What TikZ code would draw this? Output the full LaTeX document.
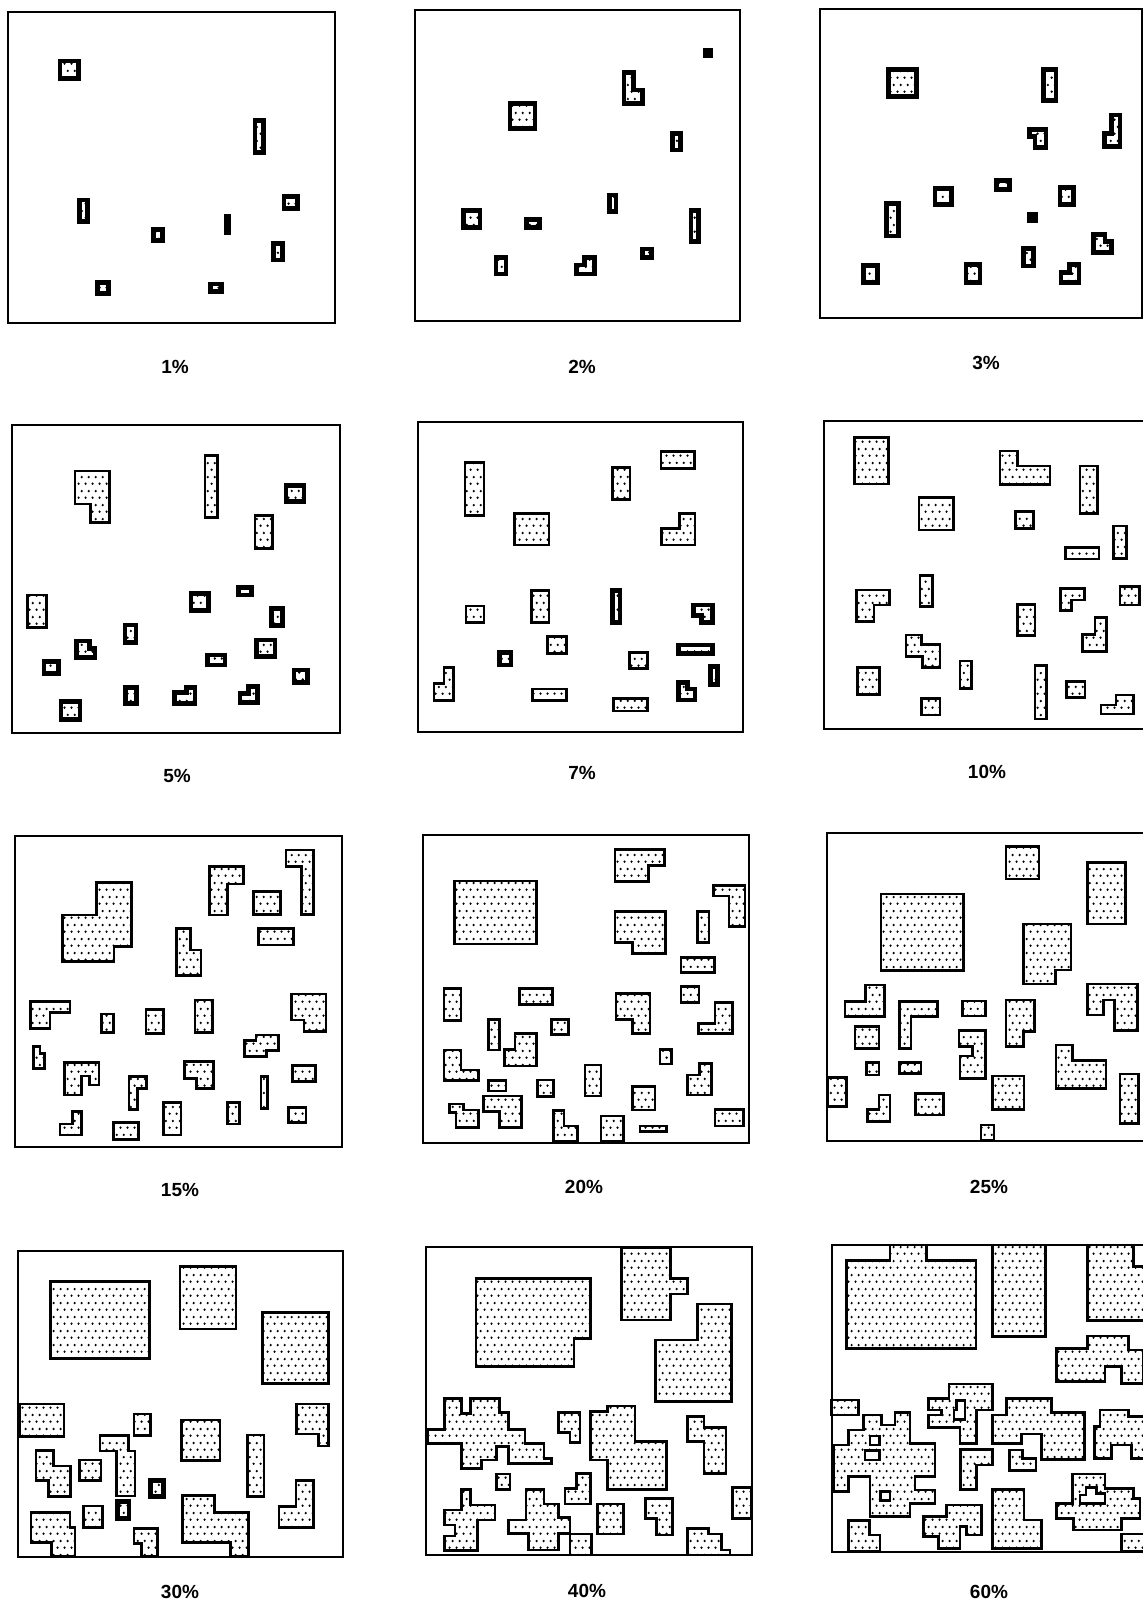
\documentclass[tikz,border=0pt]{standalone}
\usepackage{fontspec}
\newfontfamily\lblfont{Liberation Sans}
\usetikzlibrary{patterns}
\pgfdeclarepatternformonly{stag}{\pgfpointorigin}{\pgfpoint{3.5pt}{7pt}}{\pgfpoint{3.5pt}{7pt}}{%
  \pgfpathcircle{\pgfpoint{0.875pt}{1.75pt}}{0.68pt}%
  \pgfpathcircle{\pgfpoint{2.625pt}{5.25pt}}{0.68pt}%
  \pgfusepath{fill}}
\tikzset{
  frame/.style={draw, line width=1pt},
  blk/.style={draw, line width=1.3pt, pattern=stag, line join=miter},
  sml/.style={draw, line width=2.2pt, pattern=stag, line join=miter},
  solid blk/.style={draw, line width=1pt, fill=black},
  lbl/.style={font=\lblfont\bfseries\fontsize{9.5}{10}\selectfont, inner sep=0pt},
  panel/.style 2 args={xshift=#1*0.5pt, yshift=-#2*0.5pt, x=0.1666667pt, y=-0.1666667pt}
}
\begin{document}
\begin{tikzpicture}[x=0.5pt, y=-0.5pt]
\path[use as bounding box] (0,0) rectangle (1143,1607);
\clip (0,0) rectangle (1143,1607);
\fill[white] (0,0) rectangle (1143,1607);

% ---------- 1% ----------
\begin{scope}[panel={0}{0}]
\draw[frame] (25,35) rectangle (1005,968);
\draw[sml] (180,183) rectangle (235,235);
\draw[sml] (765,362) rectangle (790,458);
\draw[sml] (238,600) rectangle (262,665);
\draw[sml] (460,688) rectangle (488,722);
\draw[solid blk] (675,645) rectangle (690,703);
\draw[sml] (852,590) rectangle (892,625);
\draw[sml] (820,730) rectangle (848,780);
\draw[sml] (292,848) rectangle (325,880);
\draw[sml] (632,852) rectangle (665,875);
\end{scope}
\node[lbl] (l1) at (175,367) {1\%};

% ---------- 2% ----------
\begin{scope}[panel={400}{0}]
\draw[frame] (45,30) rectangle (1020,962);
\draw[solid blk] (913,147) rectangle (937,172);
\draw[sml] (672,217) -- (700,217) -- (700,270) -- (727,270) -- (727,310) -- (672,310) -- cycle;
\draw[sml] (330,310) rectangle (405,385);
\draw[sml] (818,400) rectangle (842,450);
\draw[sml] (628,585) rectangle (648,635);
\draw[sml] (190,632) rectangle (240,683);
\draw[sml] (380,658) rectangle (418,682);
\draw[sml] (873,632) rectangle (895,725);
\draw[sml] (288,772) rectangle (318,822);
\draw[sml] (553,772) -- (583,772) -- (583,822) -- (530,822) -- (530,795) -- (553,795) -- cycle;
\draw[sml] (727,747) rectangle (755,772);
\end{scope}
\node[lbl] (l2) at (582,367) {2\%};

% ---------- 3% ----------
\begin{scope}[panel={800}{0}]
\draw[frame] (60,28) rectangle (1027,955);
\draw[sml] (265,208) rectangle (350,290);
\draw[sml] (730,208) rectangle (768,302);
\draw[sml] (935,345) -- (960,345) -- (960,440) -- (913,440) -- (913,400) -- (935,400) -- cycle;
\draw[sml] (688,388) -- (738,388) -- (738,442) -- (705,442) -- (705,410) -- (688,410) -- cycle;
\draw[sml] (590,542) rectangle (628,568);
\draw[sml] (405,565) rectangle (455,613);
\draw[sml] (780,562) rectangle (820,613);
\draw[sml] (260,610) rectangle (295,708);
\draw[solid blk] (683,640) rectangle (710,665);
\draw[sml] (880,703) -- (915,703) -- (915,725) -- (935,725) -- (935,758) -- (880,758) -- cycle;
\draw[sml] (670,745) rectangle (700,798);
\draw[sml] (190,797) rectangle (233,848);
\draw[sml] (498,793) rectangle (540,847);
\draw[sml] (808,793) -- (837,793) -- (837,848) -- (783,848) -- (783,818) -- (808,818) -- cycle;
\end{scope}
\node[lbl] (l3) at (986,363) {3\%};

% ---------- 5% ----------
\begin{scope}[panel={0}{405}]
\draw[frame] (35,60) rectangle (1020,985);
\draw[blk] (225,198) -- (328,198) -- (328,352) -- (272,352) -- (272,297) -- (225,297) -- cycle;
\draw[blk] (615,152) rectangle (652,338);
\draw[sml] (858,242) rectangle (912,290);
\draw[blk] (765,332) rectangle (818,430);
\draw[blk] (83,570) rectangle (140,667);
\draw[sml] (715,548) rectangle (755,570);
\draw[sml] (573,565) rectangle (625,617);
\draw[sml] (815,610) rectangle (848,662);
\draw[sml] (375,660) rectangle (408,712);
\draw[sml] (230,708) -- (268,708) -- (268,730) -- (285,730) -- (285,758) -- (230,758) -- cycle;
\draw[sml] (770,705) rectangle (825,755);
\draw[sml] (622,750) rectangle (675,780);
\draw[sml] (132,770) rectangle (175,805);
\draw[sml] (882,795) rectangle (922,832);
\draw[sml] (377,848) rectangle (410,895);
\draw[sml] (560,848) -- (585,848) -- (585,895) -- (523,895) -- (523,862) -- (560,862) -- cycle;
\draw[sml] (745,845) -- (773,845) -- (773,893) -- (720,893) -- (720,865) -- (745,865) -- cycle;
\draw[sml] (183,890) rectangle (240,943);
\end{scope}
\node[lbl] (l5) at (177,776) {5\%};

% ---------- 7% ----------
\begin{scope}[panel={400}{405}]
\draw[frame] (55,52) rectangle (1030,982);
\draw[blk] (195,172) rectangle (252,332);
\draw[blk] (343,325) rectangle (447,420);
\draw[blk] (637,188) rectangle (690,283);
\draw[blk] (783,140) rectangle (883,190);
\draw[blk] (838,325) -- (885,325) -- (885,420) -- (785,420) -- (785,370) -- (838,370) -- cycle;
\draw[blk] (198,603) rectangle (252,652);
\draw[blk] (395,557) rectangle (447,652);
\draw[sml] (637,557) rectangle (660,652);
\draw[sml] (880,600) -- (938,600) -- (938,652) -- (905,652) -- (905,632) -- (880,632) -- cycle;
\draw[blk] (443,695) rectangle (500,745);
\draw[sml] (298,743) rectangle (333,780);
\draw[blk] (688,742) rectangle (742,790);
\draw[sml] (835,720) rectangle (938,745);
\draw[sml] (932,785) rectangle (952,838);
\draw[blk] (132,788) -- (160,788) -- (160,887) -- (102,887) -- (102,835) -- (132,835) -- cycle;
\draw[blk] (397,852) rectangle (500,887);
\draw[blk] (640,880) rectangle (742,918);
\draw[sml] (835,832) -- (862,832) -- (862,852) -- (885,852) -- (885,885) -- (835,885) -- cycle;
\end{scope}
\node[lbl] (l7) at (582,773) {7\%};

% ---------- 10% ----------
\begin{scope}[panel={800}{405}]
\draw[frame] (72,48) rectangle (1100,972);
\draw[blk] (163,97) rectangle (265,237);
\draw[blk] (600,138) -- (652,138) -- (652,183) -- (750,183) -- (750,238) -- (600,238) -- cycle;
\draw[blk] (840,183) rectangle (893,325);
\draw[blk] (357,278) rectangle (460,375);
\draw[blk] (647,320) rectangle (700,370);
\draw[blk] (940,363) rectangle (980,460);
\draw[blk] (797,428) rectangle (897,462);
\draw[blk] (170,555) -- (268,555) -- (268,600) -- (222,600) -- (222,650) -- (170,650) -- cycle;
\draw[blk] (360,512) rectangle (398,605);
\draw[blk] (782,550) -- (853,550) -- (853,585) -- (815,585) -- (815,617) -- (782,617) -- cycle;
\draw[blk] (960,545) rectangle (1018,600);
\draw[blk] (652,598) rectangle (705,692);
\draw[blk] (885,638) -- (920,638) -- (920,740) -- (848,740) -- (848,688) -- (885,688) -- cycle;
\draw[blk] (318,690) -- (365,690) -- (365,718) -- (420,718) -- (420,788) -- (368,788) -- (368,755) -- (318,755) -- cycle;
\draw[blk] (172,787) rectangle (238,868);
\draw[blk] (480,768) rectangle (515,850);
\draw[blk] (705,782) rectangle (740,942);
\draw[blk] (800,830) rectangle (855,878);
\draw[blk] (365,880) rectangle (420,930);
\draw[blk] (948,870) -- (1000,870) -- (1000,927) -- (903,927) -- (903,900) -- (948,900) -- cycle;
\end{scope}
\node[lbl] (l10) at (987,772) {10\%};

% ---------- 15% ----------
\begin{scope}[panel={0}{820}]
\draw[frame] (45,48) rectangle (1025,980);
\draw[blk] (187,285) -- (290,285) -- (290,187) -- (395,187) -- (395,380) -- (342,380) -- (342,425) -- (187,425) -- cycle;
\draw[blk] (628,140) -- (730,140) -- (730,192) -- (683,192) -- (683,285) -- (628,285) -- cycle;
\draw[blk] (858,90) -- (940,90) -- (940,283) -- (905,283) -- (905,140) -- (858,140) -- cycle;
\draw[blk] (760,215) rectangle (842,283);
\draw[blk] (775,325) rectangle (880,375);
\draw[blk] (530,325) -- (572,325) -- (572,390) -- (603,390) -- (603,467) -- (530,467) -- cycle;
\draw[blk] (92,545) -- (210,545) -- (210,578) -- (150,578) -- (150,625) -- (92,625) -- cycle;
\draw[blk] (305,582) rectangle (340,638);
\draw[blk] (438,568) rectangle (490,640);
\draw[blk] (585,540) rectangle (637,637);
\draw[blk] (875,522) -- (978,522) -- (978,635) -- (912,635) -- (912,600) -- (875,600) -- cycle;
\draw[blk] (768,645) -- (835,645) -- (835,692) -- (800,692) -- (800,710) -- (733,710) -- (733,662) -- (768,662) -- cycle;
\draw[blk] (100,680) -- (120,680) -- (120,700) -- (133,700) -- (133,745) -- (100,745) -- cycle;
\draw[blk] (193,727) -- (297,727) -- (297,795) -- (268,795) -- (268,768) -- (245,768) -- (245,825) -- (193,825) -- cycle;
\draw[blk] (387,770) -- (440,770) -- (440,805) -- (412,805) -- (412,868) -- (387,868) -- cycle;
\draw[blk] (553,725) -- (640,725) -- (640,805) -- (590,805) -- (590,775) -- (553,775) -- cycle;
\draw[blk] (783,770) rectangle (803,865);
\draw[blk] (878,737) rectangle (947,785);
\draw[blk] (218,875) -- (245,875) -- (245,945) -- (180,945) -- (180,912) -- (218,912) -- cycle;
\draw[blk] (340,908) rectangle (415,958);
\draw[blk] (490,848) rectangle (543,945);
\draw[blk] (682,847) rectangle (718,912);
\draw[blk] (865,862) rectangle (918,908);
\end{scope}
\node[lbl] (l15) at (180,1190) {15\%};

% ---------- 20% ----------
\begin{scope}[panel={400}{820}]
\draw[frame] (70,45) rectangle (1048,970);
\draw[blk] (163,183) rectangle (410,372);
\draw[blk] (645,88) -- (793,88) -- (793,137) -- (745,137) -- (745,185) -- (645,185) -- cycle;
\draw[blk] (645,275) -- (797,275) -- (797,400) -- (697,400) -- (697,367) -- (645,367) -- cycle;
\draw[blk] (940,197) -- (1035,197) -- (1035,320) -- (987,320) -- (987,228) -- (940,228) -- cycle;
\draw[blk] (892,275) rectangle (927,368);
\draw[blk] (843,412) rectangle (943,458);
\draw[blk] (843,500) rectangle (897,548);
\draw[blk] (132,505) rectangle (183,602);
\draw[blk] (358,505) rectangle (458,553);
\draw[blk] (455,598) rectangle (505,643);
\draw[blk] (648,520) -- (750,520) -- (750,640) -- (697,640) -- (697,598) -- (648,598) -- cycle;
\draw[blk] (945,548) -- (997,548) -- (997,640) -- (895,640) -- (895,610) -- (945,610) -- cycle;
\draw[blk] (265,598) rectangle (298,690);
\draw[blk] (345,640) -- (410,640) -- (410,738) -- (313,738) -- (313,688) -- (345,688) -- cycle;
\draw[blk] (132,690) -- (183,690) -- (183,750) -- (235,750) -- (235,782) -- (132,782) -- cycle;
\draw[blk] (780,688) rectangle (815,732);
\draw[blk] (265,782) rectangle (318,813);
\draw[blk] (412,780) rectangle (460,830);
\draw[blk] (555,735) rectangle (603,828);
\draw[blk] (898,730) -- (935,730) -- (935,825) -- (862,825) -- (862,765) -- (898,765) -- cycle;
\draw[blk] (698,800) rectangle (765,870);
\draw[blk] (945,868) rectangle (1030,918);
\draw[blk] (148,852) -- (190,852) -- (190,870) -- (235,870) -- (235,922) -- (168,922) -- (168,878) -- (148,878) -- cycle;
\draw[blk] (250,828) -- (365,828) -- (365,922) -- (298,922) -- (298,875) -- (250,875) -- cycle;
\draw[blk] (460,872) -- (492,872) -- (492,918) -- (532,918) -- (532,965) -- (460,965) -- cycle;
\draw[blk] (603,888) rectangle (670,965);
\draw[blk] (720,918) rectangle (800,935);
\end{scope}
\node[lbl] (l20) at (584,1187) {20\%};

% ---------- 25% ----------
\begin{scope}[panel={800}{820}]
\draw[frame] (82,40) rectangle (1100,962);
\draw[blk] (243,222) rectangle (490,452);
\draw[blk] (618,80) rectangle (717,177);
\draw[blk] (862,127) rectangle (977,312);
\draw[blk] (670,312) -- (813,312) -- (813,450) -- (767,450) -- (767,492) -- (670,492) -- cycle;
\draw[blk] (862,492) -- (1012,492) -- (1012,632) -- (943,632) -- (943,540) -- (910,540) -- (910,585) -- (862,585) -- cycle;
\draw[blk] (197,495) -- (253,495) -- (253,590) -- (135,590) -- (135,545) -- (197,545) -- cycle;
\draw[blk] (298,545) -- (412,545) -- (412,590) -- (333,590) -- (333,685) -- (298,685) -- cycle;
\draw[blk] (488,543) rectangle (557,588);
\draw[blk] (618,540) -- (703,540) -- (703,635) -- (670,635) -- (670,680) -- (618,680) -- cycle;
\draw[blk] (165,620) rectangle (237,685);
\draw[blk] (477,632) -- (557,632) -- (557,775) -- (480,775) -- (480,708) -- (518,708) -- (518,680) -- (477,680) -- cycle;
\draw[blk] (768,675) -- (817,675) -- (817,722) -- (918,722) -- (918,805) -- (768,805) -- cycle;
\draw[blk] (200,728) rectangle (237,765);
\draw[blk] (298,728) rectangle (363,760);
\draw[blk] (82,773) rectangle (140,860);
\draw[blk] (578,768) rectangle (672,868);
\draw[blk] (960,762) rectangle (1015,910);
\draw[blk] (237,825) -- (270,825) -- (270,905) -- (202,905) -- (202,868) -- (237,868) -- cycle;
\draw[blk] (347,820) rectangle (430,885);
\draw[blk] (543,915) rectangle (582,962);
\end{scope}
\node[lbl] (l25) at (989,1187) {25\%};

% ---------- 30% ----------
\begin{scope}[panel={0}{1230}]
\draw[frame] (55,62) rectangle (1030,982);
\draw[blk] (152,155) rectangle (448,385);
\draw[blk] (540,110) rectangle (708,297);
\draw[blk] (787,248) rectangle (985,460);
\draw[blk] (58,522) rectangle (192,620);
\draw[blk] (402,552) rectangle (452,617);
\draw[blk] (545,570) rectangle (660,692);
\draw[blk] (890,522) -- (985,522) -- (985,648) -- (955,648) -- (955,612) -- (890,612) -- cycle;
\draw[blk] (300,617) -- (385,617) -- (385,663) -- (405,663) -- (405,798) -- (350,798) -- (350,663) -- (300,663) -- cycle;
\draw[blk] (108,662) -- (160,662) -- (160,708) -- (212,708) -- (212,800) -- (145,800) -- (145,752) -- (108,752) -- cycle;
\draw[blk] (238,690) rectangle (303,752);
\draw[blk] (742,615) rectangle (792,800);
\draw[sml] (452,752) rectangle (490,800);
\draw[blk] (548,797) -- (643,797) -- (643,848) -- (745,848) -- (745,978) -- (692,978) -- (692,938) -- (548,938) -- cycle;
\draw[blk] (888,752) -- (940,752) -- (940,893) -- (837,893) -- (837,830) -- (888,830) -- cycle;
\draw[sml] (352,815) rectangle (387,865);
\draw[blk] (250,828) rectangle (307,893);
\draw[blk] (93,848) -- (210,848) -- (210,893) -- (225,893) -- (225,978) -- (155,978) -- (155,938) -- (93,938) -- cycle;
\draw[blk] (402,895) -- (472,895) -- (472,978) -- (425,978) -- (425,940) -- (402,940) -- cycle;
\end{scope}
\node[lbl] (l30) at (180,1592) {30\%};

% ---------- 40% ----------
\begin{scope}[panel={400}{1230}]
\draw[frame] (78,52) rectangle (1055,975);
\draw[blk] (228,145) -- (572,145) -- (572,325) -- (522,325) -- (522,410) -- (228,410) -- cycle;
\draw[blk] (665,52) -- (812,52) -- (812,145) -- (862,145) -- (862,192) -- (812,192) -- (812,270) -- (665,270) -- cycle;
\draw[blk] (893,222) -- (995,222) -- (995,515) -- (767,515) -- (767,330) -- (893,330) -- cycle;
\draw[blk] (82,598) -- (133,598) -- (133,505) -- (185,505) -- (185,550) -- (212,550) -- (212,505) -- (298,505) -- (298,548) -- (325,548) -- (325,598) -- (375,598) -- (375,640) -- (432,640) -- (432,685) -- (455,685) -- (455,700) -- (325,700) -- (325,650) -- (290,650) -- (290,690) -- (245,690) -- (245,715) -- (185,715) -- (185,640) -- (82,640) -- cycle;
\draw[blk] (475,548) -- (540,548) -- (540,638) -- (510,638) -- (510,608) -- (475,608) -- cycle;
\draw[blk] (572,545) -- (622,545) -- (622,528) -- (705,528) -- (705,635) -- (800,635) -- (800,778) -- (622,778) -- (622,690) -- (572,690) -- cycle;
\draw[blk] (862,560) -- (912,560) -- (912,592) -- (978,592) -- (978,730) -- (912,730) -- (912,635) -- (862,635) -- cycle;
\draw[blk] (290,732) rectangle (330,778);
\draw[blk] (530,730) -- (572,730) -- (572,822) -- (495,822) -- (495,775) -- (530,775) -- cycle;
\draw[blk] (185,778) -- (212,778) -- (212,825) -- (285,825) -- (285,870) -- (232,870) -- (232,962) -- (133,962) -- (133,918) -- (165,918) -- (165,885) -- (133,885) -- (133,840) -- (185,840) -- cycle;
\draw[blk] (378,778) -- (432,778) -- (432,822) -- (475,822) -- (475,862) -- (510,862) -- (510,910) -- (475,910) -- (475,960) -- (385,960) -- (385,910) -- (325,910) -- (325,870) -- (378,870) -- cycle;
\draw[blk] (510,912) rectangle (575,975);
\draw[blk] (592,822) rectangle (670,912);
\draw[blk] (737,805) -- (817,805) -- (817,915) -- (770,915) -- (770,865) -- (737,865) -- cycle;
\draw[blk] (997,772) rectangle (1055,865);
\draw[blk] (862,895) -- (925,895) -- (925,912) -- (965,912) -- (965,960) -- (990,960) -- (990,975) -- (862,975) -- cycle;
\end{scope}
\node[lbl] (l40) at (587,1591) {40\%};

% ---------- 60% ----------
\begin{scope}[panel={800}{1230}]
\draw[frame] (95,45) rectangle (1100,965);
\draw[blk] (140,92) -- (270,92) -- (270,45) -- (380,45) -- (380,92) -- (528,92) -- (528,355) -- (140,355) -- cycle;
\draw[blk] (577,45) rectangle (737,320);
\draw[blk] (862,45) -- (1000,45) -- (1000,110) -- (1050,110) -- (1050,272) -- (862,272) -- cycle;
\draw[blk] (770,355) -- (862,355) -- (862,318) -- (985,318) -- (985,360) -- (1030,360) -- (1030,460) -- (965,460) -- (965,410) -- (915,410) -- (915,455) -- (770,455) -- cycle;
\draw[blk] (95,510) rectangle (175,555);
\draw[blk, even odd rule] (447,462) -- (578,462) -- (578,540) -- (530,540) -- (530,640) -- (480,640) -- (480,592) -- (385,592) -- (385,555) -- (425,555) -- (425,540) -- (385,540) -- (385,505) -- (447,505) -- cycle
  (470,512) -- (495,512) -- (495,568) -- (462,568) -- (462,540) -- (470,540) -- cycle;
\draw[blk] (620,505) -- (755,505) -- (755,548) -- (853,548) -- (853,688) -- (725,688) -- (725,612) -- (665,612) -- (665,640) -- (578,640) -- (578,555) -- (620,555) -- cycle;
\draw[blk] (900,540) -- (985,540) -- (985,560) -- (1043,560) -- (1043,685) -- (995,685) -- (995,645) -- (935,645) -- (935,685) -- (883,685) -- (883,590) -- (900,590) -- cycle;
\draw[blk, even odd rule] (145,600) -- (190,600) -- (190,555) -- (245,555) -- (245,585) -- (285,585) -- (285,548) -- (330,548) -- (330,640) -- (405,640) -- (405,740) -- (345,740) -- (345,780) -- (405,780) -- (405,820) -- (330,820) -- (330,860) -- (210,860) -- (210,740) -- (145,740) -- (145,785) -- (100,785) -- (100,645) -- (145,645) -- cycle
  (210,618) rectangle (238,645)
  (195,662) rectangle (238,690)
  (242,785) rectangle (270,812);
\draw[blk] (482,658) -- (578,658) -- (578,705) -- (530,705) -- (530,778) -- (482,778) -- cycle;
\draw[blk] (628,660) -- (668,660) -- (668,685) -- (708,685) -- (708,722) -- (628,722) -- cycle;
\draw[blk] (578,778) -- (672,778) -- (672,870) -- (725,870) -- (725,955) -- (578,955) -- cycle;
\draw[blk] (440,825) -- (545,825) -- (545,915) -- (500,915) -- (500,890) -- (480,890) -- (480,955) -- (415,955) -- (415,920) -- (370,920) -- (370,860) -- (440,860) -- cycle;
\draw[blk] (145,872) -- (208,872) -- (208,915) -- (240,915) -- (240,965) -- (145,965) -- cycle;
\draw[blk, even odd rule] (818,732) -- (915,732) -- (915,775) -- (1000,775) -- (1000,805) -- (1020,805) -- (1020,865) -- (965,865) -- (965,900) -- (820,900) -- (820,865) -- (770,865) -- (770,820) -- (818,820) -- cycle
  (858,772) -- (890,772) -- (890,790) -- (915,790) -- (915,820) -- (840,820) -- (840,795) -- (858,795) -- cycle;
\draw[blk] (965,912) rectangle (1060,965);
\end{scope}
\node[lbl] (l60) at (989,1592) {60\%};

\end{tikzpicture}
\end{document}
